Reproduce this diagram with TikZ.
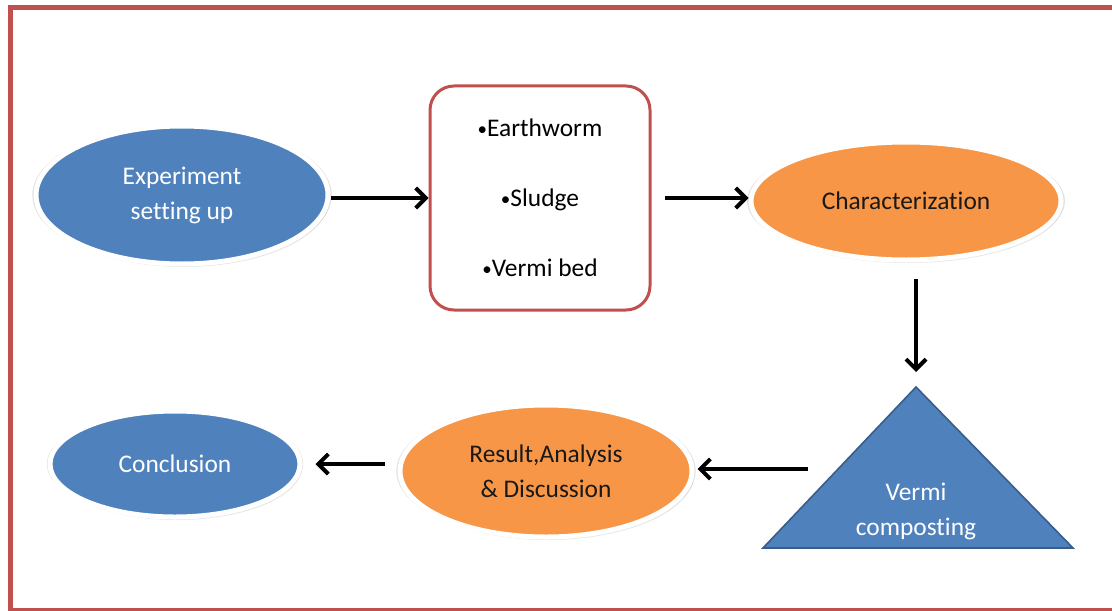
\documentclass[tikz,border=0pt]{standalone}
\usepackage{fontspec}
\setmainfont{Carlito}[Ligatures=NoCommon]
\usetikzlibrary{arrows.meta, shadows, shapes.geometric}
\definecolor{frame}{RGB}{192,80,77}
\definecolor{blue}{RGB}{79,129,189}
\definecolor{orange}{RGB}{247,150,70}
\definecolor{edge}{RGB}{56,93,138}
\newcommand{\bul}{\raisebox{0.6pt}{\fontsize{9.5}{9.5}\selectfont•}}
\tikzset{
>={Straight Barb[length=5pt,width=10pt]},
    txt/.style={font=\fontsize{12.7}{17.5}\selectfont, align=center},
    blob/.style={
    ellipse,
    draw=white, line width=2.5pt,
    inner sep=0pt,
    txt,
    general shadow={shadow scale=1.025, fill=black, opacity=0.12},
    drop shadow={shadow xshift=1pt, shadow yshift=-1.5pt, opacity=0.2}},
  blueblob/.style={blob, fill=blue, text=white},
  orangeblob/.style={blob, fill=orange, text=black!90},
  listbox/.style={
    rectangle,
    rounded corners=12pt,
    draw=frame, line width=1.5pt,
    minimum width=110pt,
    minimum height=112pt,
    font=\fontsize{12.7}{35}\selectfont,
    align=center},
  flow/.style={->, line width=2pt},
}

\begin{document}
\begin{tikzpicture}[x=0.5pt, y=-0.5pt]

  \useasboundingbox (0,0) rectangle (1112,610);
  \clip (0,0) rectangle (1112,610);

  %% Frame
  \draw[frame, line width=2.5pt] (10,7.5) rectangle (1140,610.5);

  %% Top row
  \node[blueblob, minimum width=146pt, minimum height=69pt] (exp) at (182,195) {Experiment\\setting up};
  \node[listbox] (items) at (540,198) {\bul Earthworm\\\bul Sludge\\\bul Vermi bed};
  \node[orangeblob, minimum width=155pt, minimum height=59pt] (char) at (906,201) {Characterization};

  %% Triangle
  \draw[fill=blue, draw=edge, line width=0.8pt] (916,387) coordinate (apex) -- (1073,548) -- (763,548) -- cycle;
  \node[txt, text=white] (vermi) at (916,511) {Vermi\\composting};
  \coordinate (triside) at (808,469);

  %% Bottom row
  \node[orangeblob, minimum width=146pt, minimum height=66pt] (res) at (546,471) {Result,Analysis\\\& Discussion};
  \node[blueblob, minimum width=125pt, minimum height=53pt] (conc) at (175,464) {Conclusion};

  %% Arrows
  \draw[flow] (exp.east |- items) -- (items.west);
  \draw[flow, shorten <=6.5pt] (items.east) -- (char.west |- items);
  \draw[flow, shorten <=8pt, shorten >=7.5pt] (apex |- char.south) -- (apex);
  \draw[flow, shorten >=1.5pt] (triside) -- (res.east |- triside);
  \draw[flow, shorten <=6.5pt, shorten >=6.5pt] (res.west |- conc) -- (conc.east);

\end{tikzpicture}
\end{document}
